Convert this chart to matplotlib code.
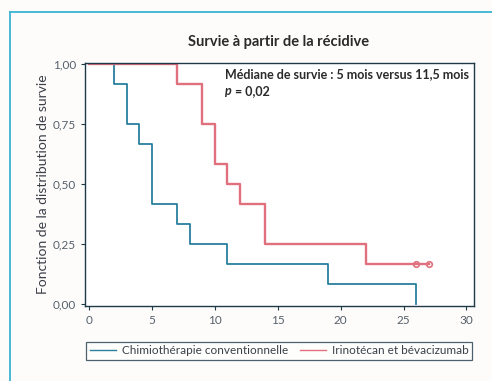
import matplotlib
matplotlib.use("Agg")
import matplotlib.pyplot as plt
from matplotlib.lines import Line2D

# Kaplan-Meier steps (time in months, survival after the step)
chemo_t = [0, 2, 3, 4, 5, 7, 8, 11, 19, 26]
chemo_s = [1.0, 0.917, 0.75, 0.667, 0.417, 0.333, 0.25, 0.167, 0.083, 0.0]
irino_t = [0, 7, 9, 10, 11, 12, 14, 22, 27]
irino_s = [1.0, 0.917, 0.75, 0.583, 0.5, 0.417, 0.25, 0.167, 0.167]
irino_cens_t = [26, 27]
irino_cens_s = [0.167, 0.167]

labels = ["Chimiothérapie conventionnelle", "Irinotécan et bévacizumab"]
x_ticks = [0, 5, 10, 15, 20, 25, 30]
y_ticks = [0.0, 0.25, 0.50, 0.75, 1.0]
y_ticklabels = ["0,00", "0,25", "0,50", "0,75", "1,00"]

BLUE = "#2a7f9f"
RED = "#e0707e"
DARK = "#1e3a48"
TXT = "#3a3f48"

plt.rcParams["font.family"] = ["Lato", "DejaVu Sans"]

fig = plt.figure(figsize=(4.92, 3.81), dpi=100)
fig.patch.set_facecolor("#fefcfa")

# cyan frame of the figure panel
fig.add_artist(Line2D([10 / 492, 1.0], [1 - 12 / 381] * 2, color="#3bb3d3", lw=1.3))
fig.add_artist(Line2D([10 / 492] * 2, [0.0, 1 - 12 / 381], color="#3bb3d3", lw=1.3))

ax = fig.add_axes([85 / 492, 1 - 306 / 381, 389 / 492, 243 / 381])
ax.set_facecolor("white")

ax.step(chemo_t, chemo_s, where="post", color=BLUE, lw=1.3)
ax.step(irino_t, irino_s, where="post", color=RED, lw=1.7)
ax.plot(irino_cens_t, irino_cens_s, "o", mfc="none", mec=RED, ms=4, mew=1.2)

ax.set_xlim(-0.32, 30.6)
ax.set_ylim(-0.008, 1.005)
ax.set_xticks(x_ticks)
ax.set_yticks(y_ticks)
ax.set_yticklabels(y_ticklabels)
for s in ax.spines.values():
    s.set_color(DARK)
    s.set_linewidth(1.0)
ax.tick_params(colors=DARK, labelcolor="#55606c", labelsize=8.5, length=3, width=0.8)

ax.set_ylabel("Fonction de la distribution de survie", fontsize=10, color=TXT, labelpad=3)
fig.text(279 / 492, 1 - 42 / 381, "Survie à partir de la récidive", ha="center", va="center",
         fontsize=10.5, fontweight="bold", color="#2a2a2a")

ax.text(0.36, 0.955, "Médiane de survie : 5 mois versus 11,5 mois", transform=ax.transAxes,
        fontsize=9, fontweight="bold", color="#2a2a2a", va="center")
p_txt = ax.text(0.36, 0.885, "p", transform=ax.transAxes, fontsize=9, fontweight="bold",
                fontstyle="italic", color="#2a2a2a", va="center")
ax.annotate(" = 0,02", xy=(1, 0), xycoords=p_txt, va="bottom", fontsize=9,
            fontweight="bold", color="#2a2a2a")

handles = [Line2D([], [], color=BLUE, lw=1.0), Line2D([], [], color=RED, lw=1.0)]
leg = fig.legend(handles, labels, ncol=2, loc="center", bbox_to_anchor=(279 / 492, 1 - 351 / 381),
                 fontsize=8.5, frameon=True, fancybox=False, edgecolor=DARK, handlelength=2.2,
                 columnspacing=1.0, borderpad=0.3, handletextpad=0.5, labelcolor=TXT)
leg.get_frame().set_linewidth(0.9)

fig.savefig("out.png", dpi=100, facecolor=fig.get_facecolor())
